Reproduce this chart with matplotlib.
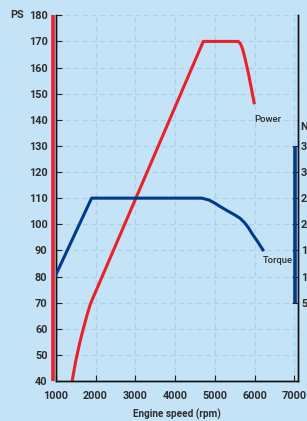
import matplotlib
matplotlib.use("Agg")
import matplotlib.pyplot as plt
import matplotlib.transforms as mtransforms

# ---- data ----
power_rpm = [1410, 1500, 1600, 1700, 1800, 1870, 4710, 5590, 5650, 5700, 5760, 5845, 5920, 5990]
power_ps = [40, 47.5, 54.5, 60.5, 66, 69.5, 170, 170, 169, 167, 163.5, 157.8, 152, 146.5]

torque_rpm = [1000, 1900, 4670, 4850, 5000, 5133, 5300, 5500, 5635, 5750, 5850, 5930, 6070, 6210]
torque_nm = [103, 250, 250, 246.5, 240.5, 234, 226.5, 218, 211.5, 203, 193, 183, 167.5, 151]

x_ticks = [1000, 2000, 3000, 4000, 5000, 6000, 7000]
ps_ticks = [40, 50, 60, 70, 80, 90, 100, 110, 120, 130, 140, 150, 160, 170, 180]
nm_ticks = [50, 100, 150, 200, 250, 300, 350]

BG = "#c4e3f7"
RED = "#e8212a"
BLUE = "#003a8c"
GRID = "#a6d2f0"
TXT = "#2e2e2e"
FONT = "Roboto"

fig = plt.figure(figsize=(3.07, 4.21), dpi=100, facecolor=BG)
W, H = 307, 421
ax = fig.add_axes([55.8 / W, 40 / H, (297.5 - 55.8) / W, (405.7 - 40) / H])
ax.set_facecolor(BG)
ax.set_xlim(1000, 7080)
ax.set_ylim(40, 180)

ax2 = ax.twinx()
ax2.set_ylim(-100, 600)

# grid
ax.set_xticks(x_ticks)
ax.set_yticks(ps_ticks)
ax.grid(True, color=GRID, linestyle=(0, (4, 3)), linewidth=0.9)
ax.set_axisbelow(True)

# curves
ax.plot(power_rpm, power_ps, color=RED, lw=2.2, solid_joinstyle="round", zorder=3)
ax2.plot(torque_rpm, torque_nm, color=BLUE, lw=2.2, solid_joinstyle="round", zorder=3)

# axis colour bars
tr1 = mtransforms.blended_transform_factory(ax.transAxes, ax.transData)
off = -2.4 / (297.5 - 55.8)
ax.plot([off, off], [40, 180], transform=tr1, color=RED, lw=2.6, clip_on=False,
        solid_capstyle="butt", zorder=5)
tr2 = mtransforms.blended_transform_factory(ax2.transAxes, ax2.transData)
off2 = 1 - 2.6 / (297.5 - 55.8)
ax2.plot([off2, off2], [50, 350], transform=tr2, color=BLUE, lw=2.6, clip_on=False,
         solid_capstyle="butt", zorder=5)

# spines
for a in (ax, ax2):
    a.spines["top"].set_visible(False)
    for s in ("left", "right", "bottom"):
        a.spines[s].set_color("#111111")
        a.spines[s].set_linewidth(1.0)

ax.tick_params(axis="y", direction="in", length=4, width=0.8, color="#222222",
               pad=6, labelsize=7.8, labelcolor=TXT)
ax.tick_params(axis="x", direction="in", length=4.5, width=0.8, color="#222222",
               pad=7.5, labelsize=7.8, labelcolor=TXT)
ax2.set_yticks(nm_ticks)
ax2.tick_params(axis="y", direction="in", length=4, width=0.8, color="#222222",
                pad=2.5, labelsize=7.8, labelcolor=TXT)

for lbl in ax.get_xticklabels() + ax.get_yticklabels() + ax2.get_yticklabels():
    lbl.set_fontfamily(FONT)
    lbl.set_fontweight("bold")

ax.set_xlabel("Engine speed (rpm)", fontsize=7.2, fontfamily=FONT,
              fontweight="bold", color=TXT, labelpad=5)

fig.text(10 / W, 1 - 15.3 / H, "PS", ha="left", va="center", fontsize=7.8,
         fontfamily=FONT, fontweight="bold", color=TXT)
fig.text(300 / W, 1 - 127 / H, "Nm", ha="left", va="center", fontsize=7.8,
         fontfamily=FONT, fontweight="bold", color=TXT)

ax.text(6000, 146.5 - 4.5, "Power", ha="left", va="top", fontsize=6.8,
        fontfamily=FONT, fontweight="medium", color=TXT)
ax2.text(6220, 151 - 12, "Torque", ha="left", va="top", fontsize=6.8,
         fontfamily=FONT, fontweight="medium", color=TXT)

fig.savefig("out.png", dpi=100, facecolor=BG)
